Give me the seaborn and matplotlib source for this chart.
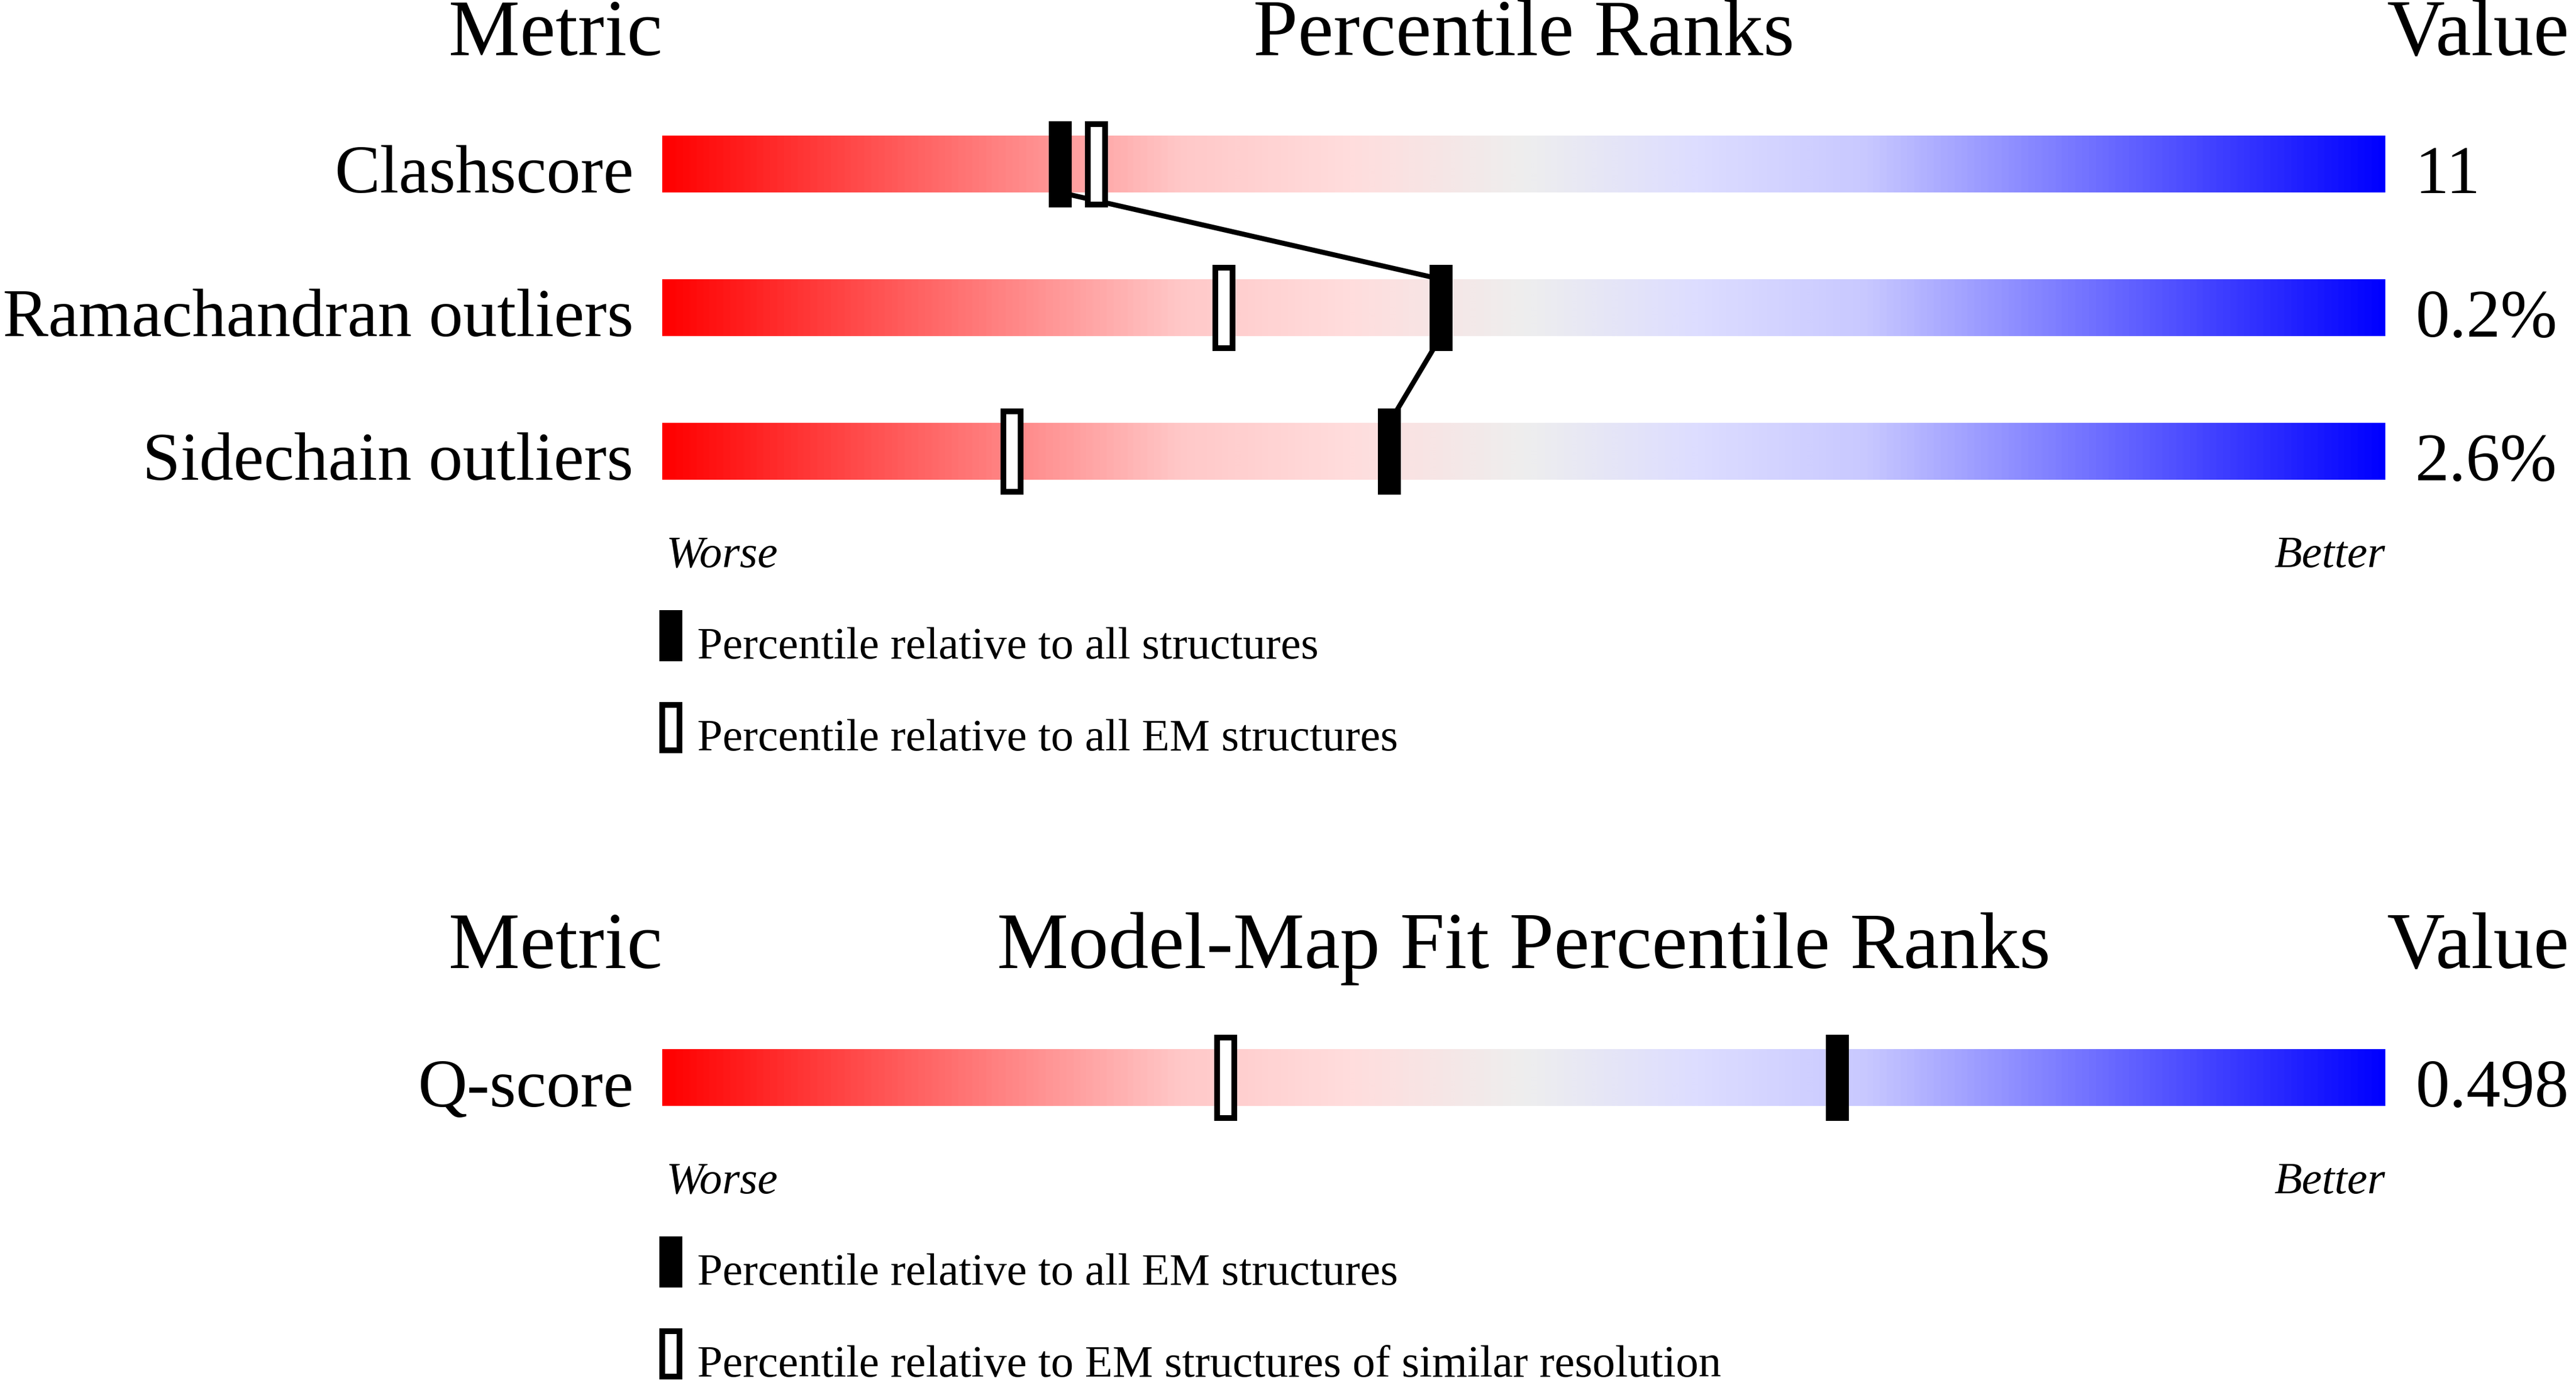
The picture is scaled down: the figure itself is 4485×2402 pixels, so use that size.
import numpy as np
import pandas as pd
import matplotlib
matplotlib.use("Agg")
import matplotlib.pyplot as plt
from matplotlib.colors import LinearSegmentedColormap
import seaborn as sns

# geometry percentiles
metrics = ['Clashscore', 'Ramachandran outliers', 'Sidechain outliers']
metric_values = ['11', '0.2%', '2.6%']
pct_all = [23.1, 45.2, 42.2]
pct_em = [25.2, 32.6, 20.3]

# model-map fit percentiles
fit_metrics = ['Q-score']
fit_values = ['0.498']
fit_pct_em = [68.2]
fit_pct_similar = [32.7]

legend_top = ['Percentile relative to all structures',
              'Percentile relative to all EM structures']
legend_bottom = ['Percentile relative to all EM structures',
                 'Percentile relative to EM structures of similar resolution']

sns.set_theme(style="white")
plt.rcParams['font.family'] = ['Liberation Serif', 'DejaVu Serif']
plt.rcParams['text.color'] = 'black'

W, H = 4485, 2402
fig = plt.figure(figsize=(W / 300, H / 300), dpi=300)
ax = fig.add_axes([0, 0, 1, 1])
ax.set_axis_off()

X0, PPU = 1153, 30.0  # pixel of 0th percentile, pixels per percentile
PT = 72 / 300         # points per pixel


def px(x):
    return (x - X0) / PPU


cmap = LinearSegmentedColormap.from_list('rank', [
    (0.0, '#ff0000'), (0.3, '#ffc8c8'), (0.4, '#ffdddd'), (0.5, '#eeeeee'),
    (0.6, '#ddddff'), (0.7, '#c8c8ff'), (1.0, '#0000ff')])
grad = np.linspace(0, 1, 1500).reshape(1, -1)

BAR_H = 99
MK_W, MK_H = 40 / PPU, 150
OPEN_W, OPEN_H = 30 / PPU, 140

head_fs, label_fs, small_fs = 33.5, 28.5, 19


def header(y, title):
    ax.text(px(1153), y, 'Metric', ha='right', va='baseline', fontsize=head_fs)
    ax.text(50, y, title, ha='center', va='baseline', fontsize=head_fs)
    ax.text(px(4155), y, 'Value', ha='left', va='baseline', fontsize=head_fs)


def rank_row(yc, name, value, filled, hollow):
    ax.imshow(grad, cmap=cmap, aspect='auto', interpolation='bilinear',
              extent=(0, 100, yc + BAR_H / 2, yc - BAR_H / 2), zorder=1)
    ax.text(px(1103), yc + 50, name, ha='right', va='baseline', fontsize=label_fs)
    ax.text(px(4205), yc + 50, value, ha='left', va='baseline', fontsize=label_fs)
    ax.bar(hollow, OPEN_H, bottom=yc - OPEN_H / 2, width=OPEN_W, color='white',
           edgecolor='black', linewidth=10 * PT, zorder=3)
    ax.bar(filled, MK_H, bottom=yc - MK_H / 2, width=MK_W, color='black',
           linewidth=0, zorder=4)


def worse_better(y):
    ax.text(px(1160), y, 'Worse', ha='left', va='baseline', fontsize=small_fs,
            style='italic')
    ax.text(px(4153), y, 'Better', ha='right', va='baseline', fontsize=small_fs,
            style='italic')


def legend(y1, y2, texts):
    ax.bar(px(1168), 89, bottom=y1 - 44.5, width=40 / PPU, color='black',
           linewidth=0, zorder=3)
    ax.bar(px(1168), 79, bottom=y2 - 39.5, width=30 / PPU, color='white',
           edgecolor='black', linewidth=10 * PT, zorder=3)
    ax.text(px(1214), y1 + 39.5, texts[0], ha='left', va='baseline', fontsize=small_fs)
    ax.text(px(1214), y2 + 39.5, texts[1], ha='left', va='baseline', fontsize=small_fs)


# top panel
header(96, 'Percentile Ranks')
rows_y = [285.5, 535.5, 785.5]
for yc, name, val, pa, pe in zip(rows_y, metrics, metric_values, pct_all, pct_em):
    rank_row(yc, name, val, pa, pe)

# connecting line between the "all structures" markers
line_x, line_y = [], []
for i, (yc, pa) in enumerate(zip(rows_y, pct_all)):
    if i > 0:
        line_x.append(pa)
        line_y.append(yc - BAR_H / 2)
    if i < len(rows_y) - 1:
        line_x.append(pa)
        line_y.append(yc + BAR_H / 2)
line_df = pd.DataFrame({'pct': line_x, 'y': line_y})
sns.lineplot(data=line_df, x='pct', y='y', sort=False, estimator=None,
             color='black', linewidth=2.1, ax=ax, zorder=2)

worse_better(987)
legend(1106.5, 1266.5, legend_top)

# bottom panel
header(1685, 'Model-Map Fit Percentile Ranks')
for yc, name, val, pa, pe in zip([1876], fit_metrics, fit_values, fit_pct_em, fit_pct_similar):
    rank_row(yc, name, val, pa, pe)
worse_better(2077)
legend(2196.5, 2356.5, legend_bottom)

ax.set_xlim(px(0), px(W))
ax.set_ylim(H, 0)
ax.set_xlabel('')
ax.set_ylabel('')

fig.savefig('out.png', dpi=300, facecolor='white')
